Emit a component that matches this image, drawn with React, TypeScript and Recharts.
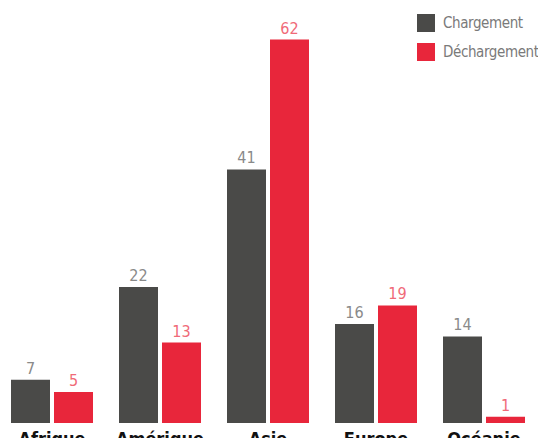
import { Bar, BarChart, LabelList, XAxis, YAxis } from "recharts"

const regions = ["Afrique", "Amérique", "Asie", "Europe", "Océanie"]
const chargement = [7, 22, 41, 16, 14]
const dechargement = [5, 13, 62, 19, 1]

const DARK = "#4a4a48"
const RED = "#e8263b"
const FONT = "'DejaVu Sans Condensed', 'Liberation Sans Narrow', Roboto, sans-serif"

const data = regions.map((region, i) => ({
  region,
  chargement: chargement[i],
  dechargement: dechargement[i],
}))

const legendItems = [
  { label: "Chargement", color: DARK },
  { label: "Déchargement", color: RED },
]

function ChartLegend() {
  return (
    <div style={{ position: "absolute", top: 8, left: 417, fontFamily: FONT }}>
      {legendItems.map((item) => (
        <div
          key={item.label}
          style={{ display: "flex", alignItems: "center", height: 29, whiteSpace: "nowrap" }}
        >
          <span
            style={{
              width: 18,
              height: 18,
              background: item.color,
              marginRight: 8,
              display: "inline-block",
            }}
          />
          <span style={{ color: "#7a7a7a", fontSize: 15, letterSpacing: -0.4 }}>
            {item.label}
          </span>
        </div>
      ))}
    </div>
  )
}

export default function App() {
  return (
    <div
      style={{ margin: -8, width: 546, height: 446, overflow: "hidden", position: "relative" }}
    >
      <BarChart
        width={546}
        height={446}
        data={data}
        margin={{ top: 21, right: 8, bottom: 0, left: -2 }}
        barGap={4}
        barSize={39}
      >
        <XAxis
          dataKey="region"
          axisLine={false}
          tickLine={false}
          height={23}
          interval={0}
          tick={{ fill: "#111", fontSize: 18, fontWeight: 700, fontFamily: FONT }}
          dy={1}
        />
        <YAxis hide domain={[0, 65]} />
        <Bar dataKey="chargement" fill={DARK} isAnimationActive={false}>
          <LabelList
            dataKey="chargement"
            position="top"
            offset={6}
            fill="#8a8a8a"
            fontSize={16}
            fontFamily={FONT}
          />
        </Bar>
        <Bar dataKey="dechargement" fill={RED} isAnimationActive={false}>
          <LabelList
            dataKey="dechargement"
            position="top"
            offset={6}
            fill="#f06a78"
            fontSize={16}
            fontFamily={FONT}
          />
        </Bar>
      </BarChart>
      <ChartLegend />
    </div>
  )
}
